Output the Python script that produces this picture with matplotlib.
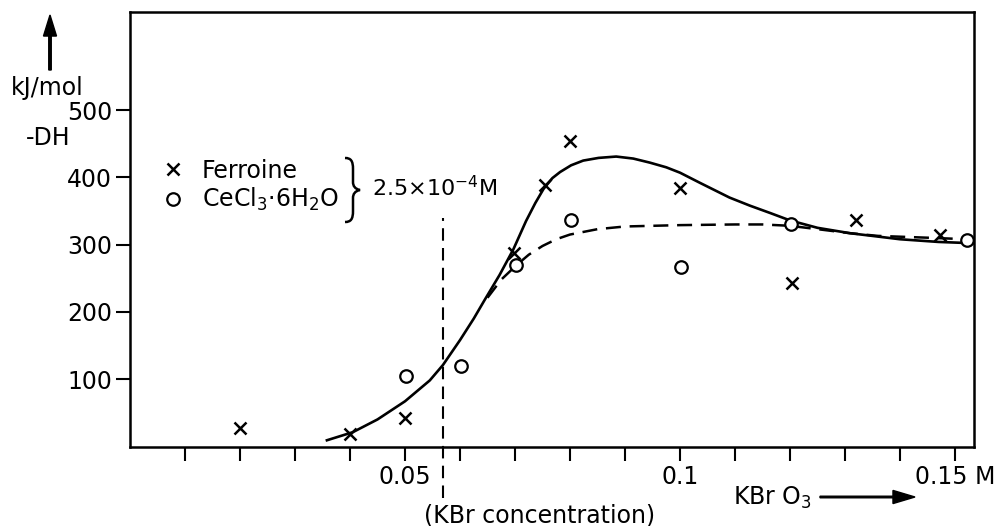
import matplotlib
matplotlib.use("Agg")
import matplotlib.pyplot as plt
from matplotlib.path import Path
from matplotlib.patches import PathPatch, FancyArrow
from matplotlib.transforms import Affine2D

plt.rcParams['font.family'] = ['DejaVu Sans']

# Data
ferroine_x = [0.020, 0.040, 0.050, 0.0698, 0.0755, 0.080, 0.100, 0.1204, 0.132, 0.1473]
ferroine_y = [27, 19, 42, 288, 388, 454, 384, 243, 336, 315]

cecl_x = [0.0502, 0.0602, 0.0702, 0.0802, 0.1002, 0.1202, 0.1522]
cecl_y = [104, 119, 269, 336, 266, 331, 307]

solid_x = [0.0358, 0.0405, 0.045, 0.050, 0.0545, 0.0569, 0.060, 0.0625, 0.0645, 0.0672,
           0.0697, 0.0720, 0.0737, 0.0752, 0.0768, 0.0782, 0.0802, 0.0824, 0.0852, 0.0884,
           0.0915, 0.0945, 0.0975, 0.100, 0.1036, 0.109, 0.1127, 0.1164, 0.120, 0.125,
           0.1309, 0.140, 0.147, 0.1535]
solid_y = [9, 21, 40, 67, 98, 121, 158, 190, 218, 255,
           293, 335, 362, 383, 399, 408, 418, 425, 429, 431,
           428, 422, 415, 407, 392, 370, 358, 347, 336, 325,
           317, 308, 304, 302]

dashed_x = [0.0650, 0.0675, 0.0702, 0.0725, 0.0750, 0.0775, 0.0800, 0.0850, 0.0900, 0.0950,
            0.1000, 0.1100, 0.1150, 0.1200, 0.1250, 0.1309, 0.1360, 0.1460, 0.1522]
dashed_y = [221, 248, 269, 285, 298, 308, 315, 323, 327, 328,
            329, 330, 330, 328, 323, 317, 313, 310, 308]

kbr_x = 0.0569
xticks = [0.01 * i for i in range(1, 16)]
xtick_labels = {0.05: "0.05", 0.10: "0.1", 0.15: "0.15 M"}
yticks = [100, 200, 300, 400, 500]

FS = 17

fig = plt.figure(figsize=(10.01, 5.26), dpi=100)
ax = fig.add_axes([130/1001, 1-447/526, (974-130)/1001, (447-12)/526])

ax.plot(solid_x, solid_y, color='black', lw=1.9, solid_joinstyle='round')
ax.plot(dashed_x, dashed_y, color='black', lw=1.8, dashes=(6, 3.5))
ax.plot(ferroine_x, ferroine_y, ls='none', marker='x', ms=8, mew=1.8, color='black',
        label='Ferroine', clip_on=False)
ax.plot(cecl_x, cecl_y, ls='none', marker='o', ms=9, mew=1.6, mfc='white', mec='black',
        label='CeCl$_3$$\\cdot$6H$_2$O', clip_on=False)

ax.axvline(kbr_x, ymin=-0.117, ymax=0.526, color='black', lw=1.5, dashes=(6, 3.5), clip_on=False)

ax.set_xlim(0, 0.15345)
ax.set_ylim(-1, 646)
ax.set_xticks(xticks)
ax.set_xticklabels([xtick_labels.get(round(t, 2), "") for t in xticks])
ax.set_yticks(yticks)
ax.set_yticklabels([str(v) for v in yticks])
ax.tick_params(axis='both', direction='out', length=10, width=1.5, labelsize=FS, pad=3)
for s in ax.spines.values():
    s.set_linewidth(1.8)

leg = ax.legend(loc='upper left', bbox_to_anchor=(0.040, 0.663), frameon=False,
                fontsize=FS, handlelength=0.8, handletextpad=0.8, labelspacing=0.15,
                borderaxespad=0, borderpad=0)

# pixel (y down) -> figure transform for annotations
pix = Affine2D().scale(1/1001, -1/526).translate(0, 1) + fig.transFigure

# brace
verts = [(345, 158), (351, 158), (353, 161), (353, 169),
         (353, 182),
         (353, 186), (355, 189), (360, 190),
         (355, 191), (353, 194), (353, 198),
         (353, 211),
         (353, 219), (351, 222), (345, 222)]
codes = [Path.MOVETO, Path.CURVE4, Path.CURVE4, Path.CURVE4,
         Path.LINETO,
         Path.CURVE4, Path.CURVE4, Path.CURVE4,
         Path.CURVE4, Path.CURVE4, Path.CURVE4,
         Path.LINETO,
         Path.CURVE4, Path.CURVE4, Path.CURVE4]
fig.add_artist(PathPatch(Path(verts, codes), transform=pix, fill=False, lw=1.8, ec='black'))

fig.text(372/1001, 1-188/526, "2.5\u00d710$^{-4}$M", fontsize=16, va='center', ha='left')

# y-axis label
fig.text(47/1001, 1-88/526, "kJ/mol", fontsize=FS, va='center', ha='center')
fig.text(48/1001, 1-138/526, "-DH", fontsize=FS, va='center', ha='center')
fig.add_artist(FancyArrow(50/1001, 1-70/526, 0, 55/526, width=0.0025,
                          head_width=0.013, head_length=0.04,
                          length_includes_head=True, color='black',
                          transform=fig.transFigure))

# x-axis labels
fig.text(540/1001, 1-515/526, "(KBr concentration)", fontsize=FS, va='center', ha='center')
fig.text(733/1001, 1-498/526, "KBr O$_3$", fontsize=FS, va='center', ha='left')
fig.add_artist(FancyArrow(820/1001, 1-497/526, 95/1001, 0, width=0.003,
                          head_width=0.025, head_length=0.022,
                          length_includes_head=True, color='black',
                          transform=fig.transFigure))

fig.savefig("out.png", dpi=100)
